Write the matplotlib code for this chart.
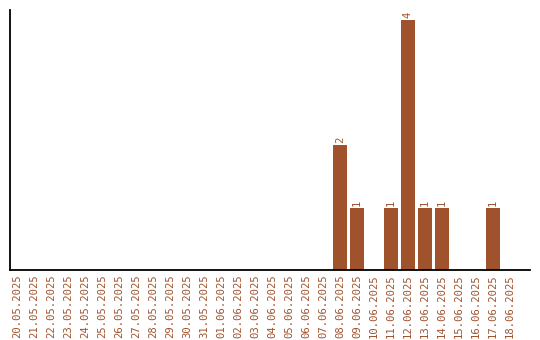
import matplotlib
matplotlib.use("Agg")
import matplotlib.pyplot as plt
import numpy as np

dates = ["20.05.2025", "21.05.2025", "22.05.2025", "23.05.2025", "24.05.2025",
         "25.05.2025", "26.05.2025", "27.05.2025", "28.05.2025", "29.05.2025",
         "30.05.2025", "31.05.2025", "01.06.2025", "02.06.2025", "03.06.2025",
         "04.06.2025", "05.06.2025", "06.06.2025", "07.06.2025", "08.06.2025",
         "09.06.2025", "10.06.2025", "11.06.2025", "12.06.2025", "13.06.2025",
         "14.06.2025", "15.06.2025", "16.06.2025", "17.06.2025", "18.06.2025"]
counts = [0, 0, 0, 0, 0, 0, 0, 0, 0, 0,
          0, 0, 0, 0, 0, 0, 0, 0, 0, 2,
          1, 0, 1, 4, 1, 1, 0, 0, 1, 0]

color = "#A0522D"
font = "DejaVu Sans Mono"

fig = plt.figure(figsize=(5.4, 3.4), dpi=100)
ax = fig.add_axes([10 / 540, 70 / 340, 520 / 540, 260 / 340])

x = np.arange(len(dates))
ax.bar(x, counts, width=0.82, color=color)
for xi, c in zip(x, counts):
    if c > 0:
        ax.text(xi, c + 0.03, str(c), rotation=90, ha="center", va="bottom",
                color=color, fontsize=7.6, family=font)

ax.set_xlim(-0.41, 30.18)
ax.set_ylim(0, 4.16)
ax.set_xticks(x)
ax.set_xticklabels(dates, rotation=90, color=color, fontsize=7.6, family=font)
ax.set_yticks([])
ax.tick_params(axis="x", length=0, pad=3)
for s in ["top", "right"]:
    ax.spines[s].set_visible(False)
for s in ["left", "bottom"]:
    ax.spines[s].set_linewidth(1.3)

fig.savefig("out.png", dpi=100)
